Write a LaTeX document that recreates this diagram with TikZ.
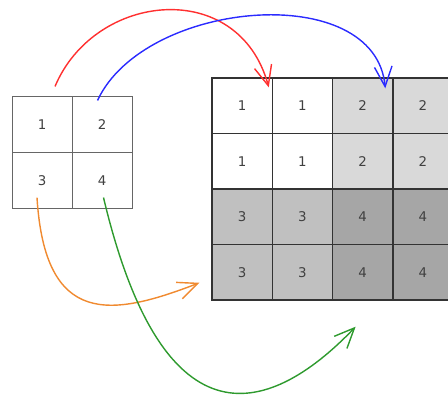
\documentclass[tikz,border=0pt]{standalone}
\usepackage{fontspec}
\setsansfont{DejaVu Sans}
\usetikzlibrary{arrows.meta,positioning,calc}
\definecolor{shade1}{HTML}{FFFFFF}
\definecolor{shade2}{HTML}{D9D9D9}
\definecolor{shade3}{HTML}{C0C0C0}
\definecolor{shade4}{HTML}{A6A6A6}
\definecolor{LinkRed}{HTML}{FF3030}
\definecolor{LinkBlue}{HTML}{2B2BFF}
\definecolor{LinkOrange}{HTML}{F08A30}
\definecolor{LinkGreen}{HTML}{2E9A2E}
\begin{document}
\begin{tikzpicture}[x=0.025cm,y=-0.025cm,font=\sffamily\fontsize{9.5}{11}\selectfont,
  cell/.style={draw=#1,minimum width=1.5cm,minimum height=1.39cm,inner sep=0pt,text=black!75},
  link/.style={line width=1pt,-{Straight Barb[length=5mm,width=4.4mm]}}]
  \clip (0,0) rectangle (448,397);
  % source tile
  \foreach \n/\c/\r in {1/1/1,2/2/1,3/1/2,4/2/2}
    \node[cell=black!60,fill=white,line width=0.7pt] (s\n) at ({12+60*(\c-0.5)},{97+55.5*(\r-0.5)}) {\n};
  % replicated tiles
  \foreach \r in {1,...,4}
    \foreach \c in {1,...,4}{
      \pgfmathtruncatemacro{\n}{2*int((\r-1)/2)+int((\c-1)/2)+1}
      \node[cell=black!80,fill=shade\n,line width=0.9pt] (t\r\c) at ({212+60.25*(\c-0.5)},{78+55.5*(\r-0.5)}) {\n};
    }
  % links
  \draw[link,LinkRed] ([shift={(13,-10)}]s1.north) .. controls +(40,-95) and +(-30,-110) .. ([shift={(-4,10)}]t11.north east);
  \draw[link,LinkBlue] ([shift={(-4.5,4)}]s2.north) .. controls +(47,-101) and +(-10,-109) .. ([shift={(-8,11)}]t13.north east);
  \draw[link,LinkOrange] ([shift={(-5,-11)}]s3.south) .. controls +(8,130) and +(-88,34) .. ([shift={(-12,10.5)}]t41.west);
  \draw[link,LinkGreen] ([shift={(1.5,-11)}]s4.south) .. controls +(58,244) and +(-92,96) .. ([shift={(-7,26)}]t43.south);
\end{tikzpicture}
\end{document}
